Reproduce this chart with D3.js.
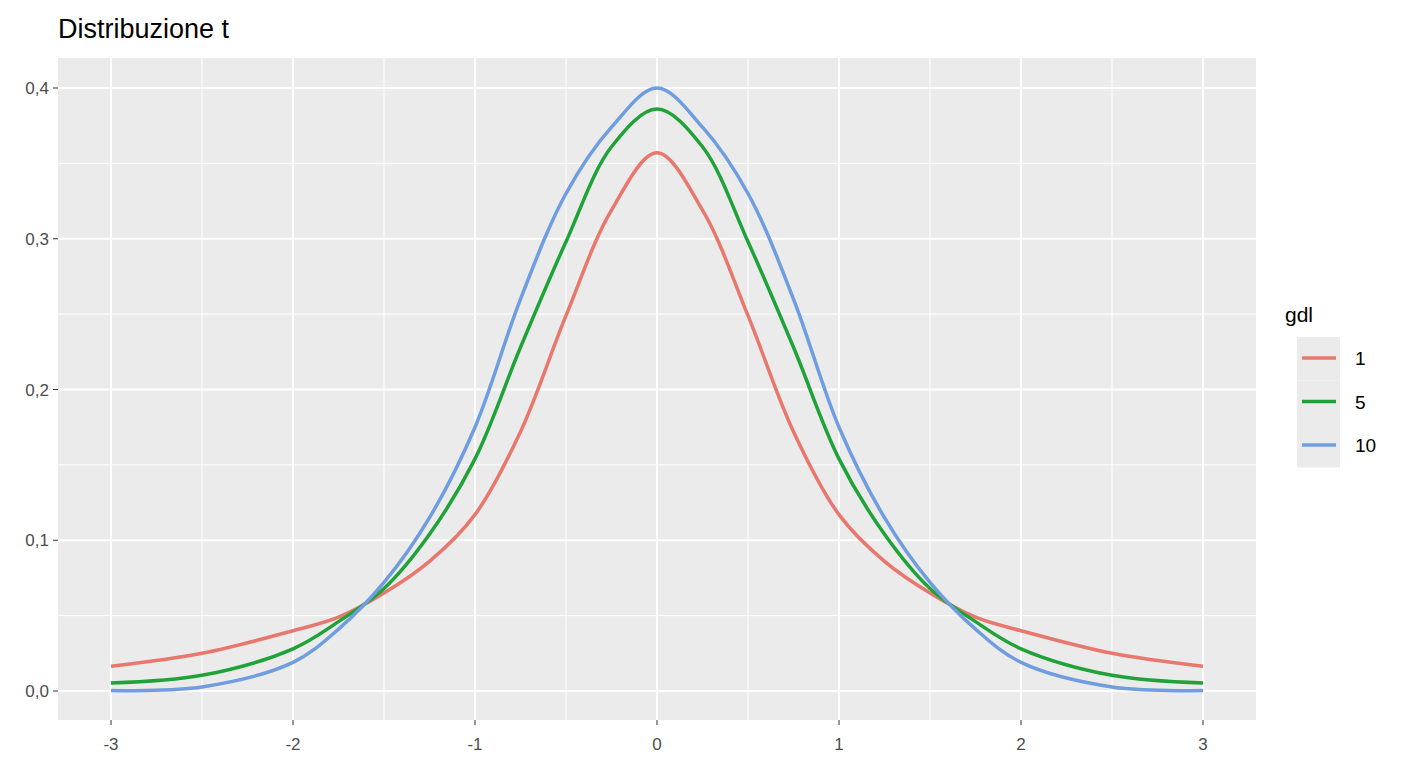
<!DOCTYPE html><html><head><meta charset="utf-8"><script src="https://d3js.org/d3.v7.min.js"></script>
<style>body{margin:0;background:#fff}text{font-family:Arial,"Liberation Sans",sans-serif}</style></head><body><svg width="1408" height="768"></svg>
<script>
const xs=[-3,-2.5,-2,-1.75,-1.5,-1.25,-1,-0.75,-0.5,-0.25,0,0.25,0.5,0.75,1,1.25,1.5,1.75,2,2.5,3];
const s1=[0.0164,0.025,0.040,0.049,0.065,0.086,0.117,0.172,0.249,0.319,0.357,0.319,0.249,0.172,0.117,0.086,0.065,0.049,0.040,0.025,0.0164];
const s5=[0.0053,0.0104,0.028,0.046,0.068,0.104,0.154,0.228,0.298,0.361,0.386,0.361,0.298,0.228,0.154,0.104,0.068,0.046,0.028,0.0104,0.0053];
const s10=[0.0003,0.0027,0.019,0.041,0.072,0.115,0.175,0.26,0.33,0.374,0.400,0.374,0.33,0.26,0.175,0.115,0.072,0.041,0.019,0.0027,0.0003];
const seriesNames=["1","5","10"];
const colors=["#E8776D","#1FA339","#6F9DE0"];
const xTicks=[-3,-2,-1,0,1,2,3];
const yTicks=[0,0.1,0.2,0.3,0.4];
const series=[s1,s5,s10];
const svg=d3.select("svg");
const L=58,R=1256,T=58,B=720;
const x=d3.scaleLinear().domain([-3,3]).range([111,1203]);
const y=d3.scaleLinear().domain([0,0.4]).range([691,88]);
svg.append("rect").attr("x",L).attr("y",T).attr("width",R-L).attr("height",B-T).attr("fill","#EBEBEB");
const g=svg.append("g");
d3.range(-3.5,3.6,0.5).filter(v=>v%1!==0).forEach(v=>{if(x(v)>L&&x(v)<R)g.append("line").attr("x1",x(v)).attr("x2",x(v)).attr("y1",T).attr("y2",B).attr("stroke","#fff").attr("stroke-width",1)});
[0.05,0.15,0.25,0.35].forEach(v=>g.append("line").attr("x1",L).attr("x2",R).attr("y1",y(v)).attr("y2",y(v)).attr("stroke","#fff").attr("stroke-width",1));
xTicks.forEach(v=>g.append("line").attr("x1",x(v)).attr("x2",x(v)).attr("y1",T).attr("y2",B).attr("stroke","#fff").attr("stroke-width",2));
yTicks.forEach(v=>g.append("line").attr("x1",L).attr("x2",R).attr("y1",y(v)).attr("y2",y(v)).attr("stroke","#fff").attr("stroke-width",2));
const line=d3.line().x((d,i)=>x(xs[i])).y(d=>y(d)).curve(d3.curveCatmullRom.alpha(0.5));
series.forEach((s,i)=>svg.append("path").datum(s).attr("d",line).attr("fill","none").attr("stroke",colors[i]).attr("stroke-width",3.5));
const fmt=d3.format(".1f");
xTicks.forEach(v=>{svg.append("line").attr("x1",x(v)).attr("x2",x(v)).attr("y1",B).attr("y2",B+5).attr("stroke","#333");
svg.append("text").attr("x",x(v)).attr("y",B+30).attr("text-anchor","middle").attr("font-size",17).attr("fill","#4D4D4D").text(v)});
yTicks.forEach(v=>{svg.append("line").attr("x1",L-5).attr("x2",L).attr("y1",y(v)).attr("y2",y(v)).attr("stroke","#333");
svg.append("text").attr("x",L-9).attr("y",y(v)+6).attr("text-anchor","end").attr("font-size",17).attr("fill","#4D4D4D").text(fmt(v).replace(".",","))});
svg.append("text").attr("x",58).attr("y",38).attr("font-size",27).attr("fill","#000").text("Distribuzione t");
svg.append("text").attr("x",1285).attr("y",322).attr("font-size",21).attr("fill","#000").text("gdl");
seriesNames.forEach((n,i)=>{const cy=358+i*43.5;
svg.append("rect").attr("x",1297).attr("y",cy-21).attr("width",43).attr("height",43.5).attr("fill","#EBEBEB");
svg.append("line").attr("x1",1302).attr("x2",1336).attr("y1",cy).attr("y2",cy).attr("stroke",colors[i]).attr("stroke-width",3.5);
svg.append("text").attr("x",1355).attr("y",cy+7).attr("font-size",19).attr("fill","#000").text(n)});
</script></body></html>
